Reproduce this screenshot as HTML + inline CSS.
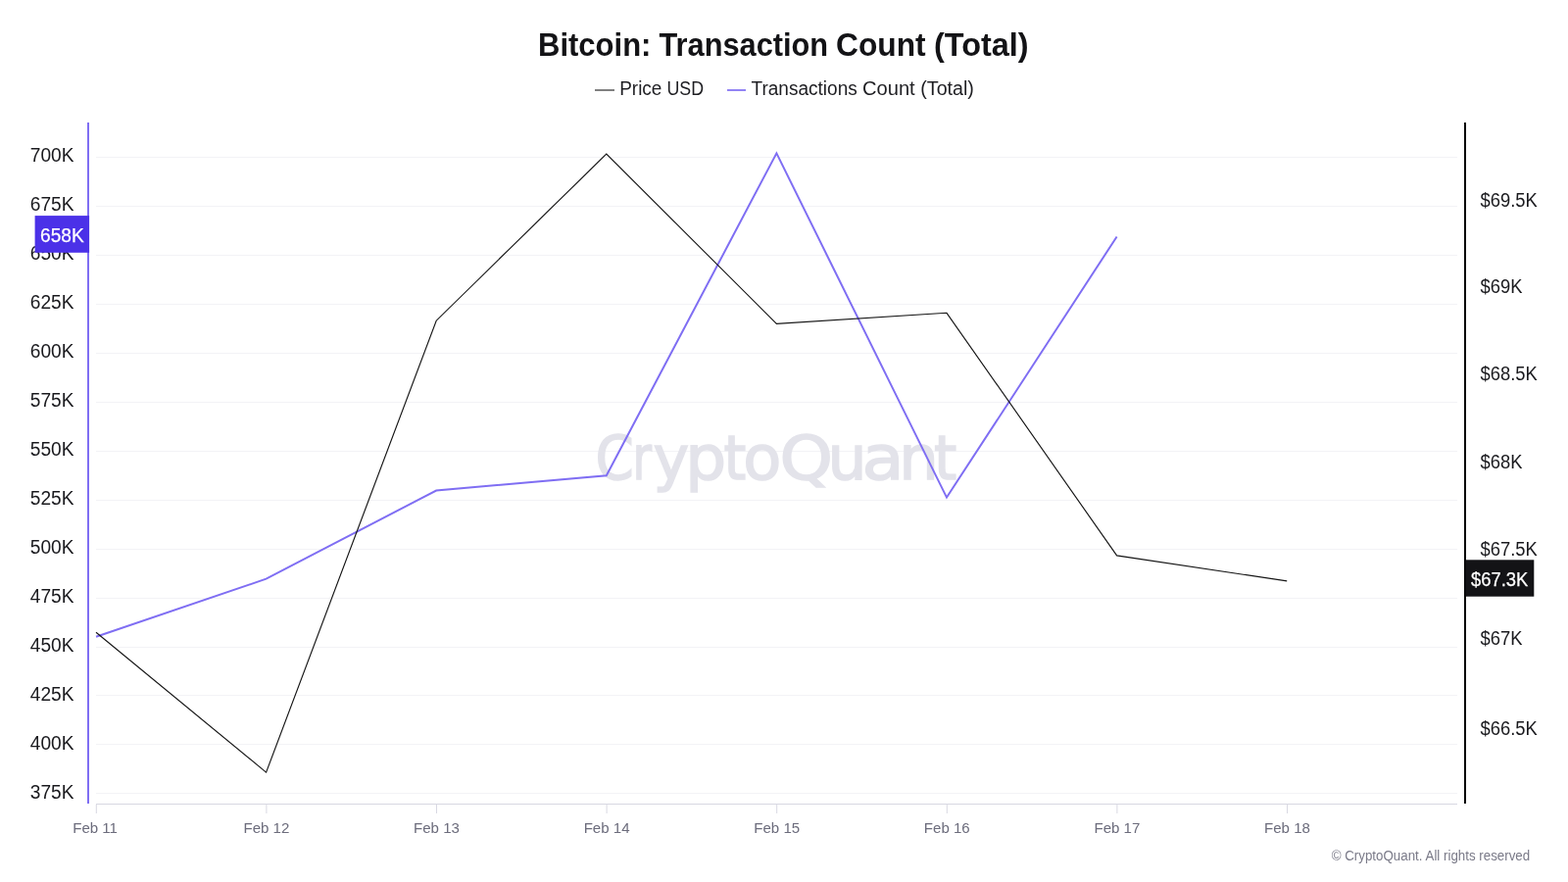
<!DOCTYPE html>
<html lang="en"><head><meta charset="utf-8"><title>Bitcoin: Transaction Count (Total)</title>
<style>html,body{margin:0;padding:0;background:#fff;width:1600px;height:900px;overflow:hidden}svg{display:block}text{font-family:"Liberation Sans", sans-serif}</style>
</head><body>
<svg width="1600" height="900" viewBox="0 0 1600 900">
<rect width="1600" height="900" fill="#ffffff"/>
<text y="57" font-size="32.3" font-weight="700" fill="#131316"><tspan x="549.0" textLength="115.40" lengthAdjust="spacingAndGlyphs">Bitcoin:</tspan> <tspan x="672.5" textLength="172.57" lengthAdjust="spacingAndGlyphs">Transaction</tspan> <tspan x="853.0" textLength="91.63" lengthAdjust="spacingAndGlyphs">Count</tspan> <tspan x="953.0" textLength="96.68" lengthAdjust="spacingAndGlyphs">(Total)</tspan></text>
<line x1="607" y1="92" x2="627" y2="92" stroke="#6a6a6a" stroke-width="1.7"/>
<text y="96.7" font-size="19.5" fill="#1e1e22"><tspan x="632.2" textLength="43.18" lengthAdjust="spacingAndGlyphs">Price</tspan> <tspan x="680.5" textLength="37.58" lengthAdjust="spacingAndGlyphs">USD</tspan></text>
<line x1="742" y1="92" x2="761" y2="92" stroke="#7f6ef3" stroke-width="1.7"/>
<text y="96.7" font-size="19.5" fill="#1e1e22"><tspan x="766.5" textLength="108.29" lengthAdjust="spacingAndGlyphs">Transactions</tspan> <tspan x="880.0" textLength="53.69" lengthAdjust="spacingAndGlyphs">Count</tspan> <tspan x="939.3" textLength="54.62" lengthAdjust="spacingAndGlyphs">(Total)</tspan></text>
<line x1="98" y1="160.50" x2="1487" y2="160.50" stroke="#f3f3f6" stroke-width="1"/>
<line x1="98" y1="210.50" x2="1487" y2="210.50" stroke="#f3f3f6" stroke-width="1"/>
<line x1="98" y1="260.50" x2="1487" y2="260.50" stroke="#f3f3f6" stroke-width="1"/>
<line x1="98" y1="310.50" x2="1487" y2="310.50" stroke="#f3f3f6" stroke-width="1"/>
<line x1="98" y1="360.50" x2="1487" y2="360.50" stroke="#f3f3f6" stroke-width="1"/>
<line x1="98" y1="410.50" x2="1487" y2="410.50" stroke="#f3f3f6" stroke-width="1"/>
<line x1="98" y1="460.50" x2="1487" y2="460.50" stroke="#f3f3f6" stroke-width="1"/>
<line x1="98" y1="510.50" x2="1487" y2="510.50" stroke="#f3f3f6" stroke-width="1"/>
<line x1="98" y1="560.50" x2="1487" y2="560.50" stroke="#f3f3f6" stroke-width="1"/>
<line x1="98" y1="610.50" x2="1487" y2="610.50" stroke="#f3f3f6" stroke-width="1"/>
<line x1="98" y1="660.50" x2="1487" y2="660.50" stroke="#f3f3f6" stroke-width="1"/>
<line x1="98" y1="709.50" x2="1487" y2="709.50" stroke="#f3f3f6" stroke-width="1"/>
<line x1="98" y1="759.50" x2="1487" y2="759.50" stroke="#f3f3f6" stroke-width="1"/>
<line x1="98" y1="809.50" x2="1487" y2="809.50" stroke="#f3f3f6" stroke-width="1"/>
<text y="489.4" font-size="62" fill="#e3e3ea" stroke="#e3e3ea" stroke-width="1.5" style="font-family:&quot;DejaVu Sans&quot;,sans-serif"><tspan x="607.6" textLength="39.31" lengthAdjust="spacingAndGlyphs">C</tspan><tspan x="645.4" textLength="19.47" lengthAdjust="spacingAndGlyphs">r</tspan><tspan x="666.6" textLength="36.72" lengthAdjust="spacingAndGlyphs">y</tspan><tspan x="699.2" textLength="41.95" lengthAdjust="spacingAndGlyphs">p</tspan><tspan x="738.4" textLength="22.78" lengthAdjust="spacingAndGlyphs">t</tspan><tspan x="758.2" textLength="39.10" lengthAdjust="spacingAndGlyphs">o</tspan><tspan x="795.4" textLength="54.50" lengthAdjust="spacingAndGlyphs">Q</tspan><tspan x="844.4" textLength="40.02" lengthAdjust="spacingAndGlyphs">u</tspan><tspan x="879.6" textLength="43.08" lengthAdjust="spacingAndGlyphs">a</tspan><tspan x="917.2" textLength="40.62" lengthAdjust="spacingAndGlyphs">n</tspan><tspan x="953.0" textLength="23.28" lengthAdjust="spacingAndGlyphs">t</tspan></text>
<line x1="98" y1="820.5" x2="1487" y2="820.5" stroke="#d8d8e2" stroke-width="1"/>
<line x1="98.3" y1="821" x2="98.3" y2="830" stroke="#d8d8e2" stroke-width="1"/>
<text x="97.1" y="849.7" text-anchor="middle" font-size="15.5" fill="#6c6c7c" textLength="45.8" lengthAdjust="spacingAndGlyphs">Feb 11</text>
<line x1="271.9" y1="821" x2="271.9" y2="830" stroke="#d8d8e2" stroke-width="1"/>
<text x="271.9" y="849.7" text-anchor="middle" font-size="15.5" fill="#6c6c7c" textLength="46.9" lengthAdjust="spacingAndGlyphs">Feb 12</text>
<line x1="445.5" y1="821" x2="445.5" y2="830" stroke="#d8d8e2" stroke-width="1"/>
<text x="445.5" y="849.7" text-anchor="middle" font-size="15.5" fill="#6c6c7c" textLength="46.9" lengthAdjust="spacingAndGlyphs">Feb 13</text>
<line x1="619.1" y1="821" x2="619.1" y2="830" stroke="#d8d8e2" stroke-width="1"/>
<text x="619.1" y="849.7" text-anchor="middle" font-size="15.5" fill="#6c6c7c" textLength="46.9" lengthAdjust="spacingAndGlyphs">Feb 14</text>
<line x1="792.7" y1="821" x2="792.7" y2="830" stroke="#d8d8e2" stroke-width="1"/>
<text x="792.7" y="849.7" text-anchor="middle" font-size="15.5" fill="#6c6c7c" textLength="46.9" lengthAdjust="spacingAndGlyphs">Feb 15</text>
<line x1="966.3" y1="821" x2="966.3" y2="830" stroke="#d8d8e2" stroke-width="1"/>
<text x="966.3" y="849.7" text-anchor="middle" font-size="15.5" fill="#6c6c7c" textLength="46.9" lengthAdjust="spacingAndGlyphs">Feb 16</text>
<line x1="1139.9" y1="821" x2="1139.9" y2="830" stroke="#d8d8e2" stroke-width="1"/>
<text x="1139.9" y="849.7" text-anchor="middle" font-size="15.5" fill="#6c6c7c" textLength="46.9" lengthAdjust="spacingAndGlyphs">Feb 17</text>
<line x1="1313.5" y1="821" x2="1313.5" y2="830" stroke="#d8d8e2" stroke-width="1"/>
<text x="1313.5" y="849.7" text-anchor="middle" font-size="15.5" fill="#6c6c7c" textLength="46.9" lengthAdjust="spacingAndGlyphs">Feb 18</text>
<line x1="90" y1="125" x2="90" y2="820" stroke="#7f6ef3" stroke-width="2"/>
<text x="75.5" y="165.3" text-anchor="end" font-size="20" fill="#1a1a1e" textLength="44.7" lengthAdjust="spacingAndGlyphs">700K</text>
<text x="75.5" y="215.3" text-anchor="end" font-size="20" fill="#1a1a1e" textLength="44.7" lengthAdjust="spacingAndGlyphs">675K</text>
<text x="75.5" y="265.3" text-anchor="end" font-size="20" fill="#1a1a1e" textLength="44.7" lengthAdjust="spacingAndGlyphs">650K</text>
<text x="75.5" y="315.3" text-anchor="end" font-size="20" fill="#1a1a1e" textLength="44.7" lengthAdjust="spacingAndGlyphs">625K</text>
<text x="75.5" y="365.3" text-anchor="end" font-size="20" fill="#1a1a1e" textLength="44.7" lengthAdjust="spacingAndGlyphs">600K</text>
<text x="75.5" y="415.3" text-anchor="end" font-size="20" fill="#1a1a1e" textLength="44.7" lengthAdjust="spacingAndGlyphs">575K</text>
<text x="75.5" y="465.3" text-anchor="end" font-size="20" fill="#1a1a1e" textLength="44.7" lengthAdjust="spacingAndGlyphs">550K</text>
<text x="75.5" y="515.3" text-anchor="end" font-size="20" fill="#1a1a1e" textLength="44.7" lengthAdjust="spacingAndGlyphs">525K</text>
<text x="75.5" y="565.3" text-anchor="end" font-size="20" fill="#1a1a1e" textLength="44.7" lengthAdjust="spacingAndGlyphs">500K</text>
<text x="75.5" y="615.3" text-anchor="end" font-size="20" fill="#1a1a1e" textLength="44.7" lengthAdjust="spacingAndGlyphs">475K</text>
<text x="75.5" y="665.3" text-anchor="end" font-size="20" fill="#1a1a1e" textLength="44.7" lengthAdjust="spacingAndGlyphs">450K</text>
<text x="75.5" y="715.3" text-anchor="end" font-size="20" fill="#1a1a1e" textLength="44.7" lengthAdjust="spacingAndGlyphs">425K</text>
<text x="75.5" y="765.3" text-anchor="end" font-size="20" fill="#1a1a1e" textLength="44.7" lengthAdjust="spacingAndGlyphs">400K</text>
<text x="75.5" y="815.3" text-anchor="end" font-size="20" fill="#1a1a1e" textLength="44.7" lengthAdjust="spacingAndGlyphs">375K</text>
<line x1="1495" y1="125" x2="1495" y2="820" stroke="#000" stroke-width="2"/>
<text x="1510.5" y="211.2" font-size="20" fill="#1a1a1e" textLength="58.3" lengthAdjust="spacingAndGlyphs">$69.5K</text>
<text x="1510.5" y="299.1" font-size="20" fill="#1a1a1e" textLength="43.0" lengthAdjust="spacingAndGlyphs">$69K</text>
<text x="1510.5" y="388.3" font-size="20" fill="#1a1a1e" textLength="58.3" lengthAdjust="spacingAndGlyphs">$68.5K</text>
<text x="1510.5" y="478.0" font-size="20" fill="#1a1a1e" textLength="43.0" lengthAdjust="spacingAndGlyphs">$68K</text>
<text x="1510.5" y="567.1" font-size="20" fill="#1a1a1e" textLength="58.3" lengthAdjust="spacingAndGlyphs">$67.5K</text>
<text x="1510.5" y="658.0" font-size="20" fill="#1a1a1e" textLength="43.0" lengthAdjust="spacingAndGlyphs">$67K</text>
<text x="1510.5" y="750.1" font-size="20" fill="#1a1a1e" textLength="58.3" lengthAdjust="spacingAndGlyphs">$66.5K</text>
<polyline points="98.0,649.7 271.6,590.7 445.2,500.5 618.8,485.2 792.4,156.4 966.0,507.6 1139.6,241.5" fill="none" stroke="#7f6ef3" stroke-width="2" stroke-linejoin="miter"/>
<polyline points="98.0,645.2 271.6,788.1 445.2,327.2 618.8,157.1 792.4,330.4 966.0,319.3 1139.6,566.9 1313.2,592.9" fill="none" stroke="#151515" stroke-width="1.15" stroke-linejoin="miter"/>
<rect x="35.6" y="220.1" width="55.5" height="37.7" fill="#4b31e8"/>
<text x="63.4" y="247.1" text-anchor="middle" font-size="20" fill="#ffffff" stroke="#ffffff" stroke-width="0.25" textLength="44.7" lengthAdjust="spacingAndGlyphs">658K</text>
<rect x="1495.3" y="571.3" width="70" height="37.4" fill="#131316"/>
<text x="1530.2" y="597.6" text-anchor="middle" font-size="20" fill="#ffffff" stroke="#ffffff" stroke-width="0.25" textLength="58.3" lengthAdjust="spacingAndGlyphs">$67.3K</text>
<text x="1561.2" y="877.7" text-anchor="end" font-size="14" fill="#7a7a88" textLength="202.5" lengthAdjust="spacingAndGlyphs">© CryptoQuant. All rights reserved</text>
</svg>
</body></html>
